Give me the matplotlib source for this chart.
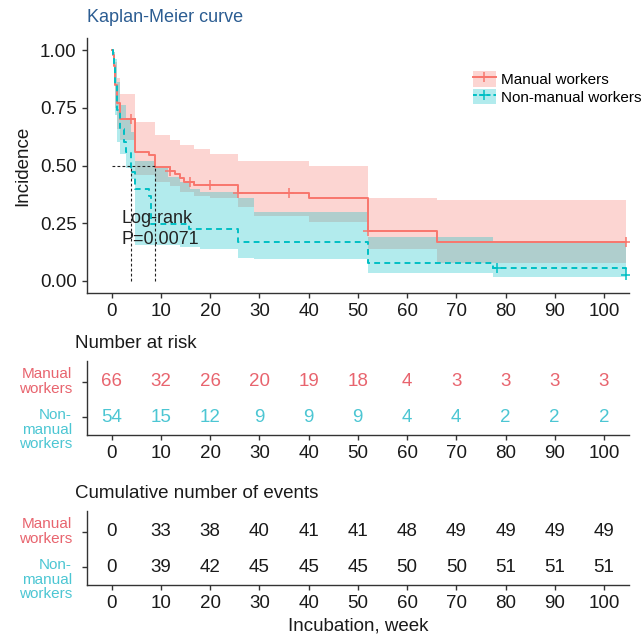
import numpy as np
import matplotlib
matplotlib.use('Agg')
import matplotlib.pyplot as plt
from matplotlib.patches import Patch
from matplotlib.lines import Line2D

plt.rcParams['font.family'] = ['Liberation Sans', 'DejaVu Sans']

# ---- data ----
groups = ['Manual workers', 'Non-manual workers']

# Kaplan-Meier curve, manual workers
man_t = [0, 0.3, 0.5, 0.7, 1.0, 1.8, 4.7, 7.6, 8.8, 11.8, 12.8, 13.8, 14.8, 16.8, 25.6, 40.0, 52.0, 66.0, 104.5]
man_s = [1.0, 0.98, 0.93, 0.85, 0.77, 0.70, 0.56, 0.545, 0.494, 0.476, 0.463, 0.446, 0.429, 0.416, 0.381, 0.36, 0.216, 0.169, 0.169]
man_cens = [4.0, 11.8, 15.9, 20.0, 25.6, 36.0, 52.0, 104.5]

# Kaplan-Meier curve, non-manual workers
non_t = [0, 0.3, 0.5, 0.7, 1.0, 1.8, 2.5, 3.0, 3.9, 4.7, 7.6, 8.0, 15.8, 25.6, 52.0, 77.5, 104.5]
non_s = [1.0, 0.98, 0.94, 0.85, 0.74, 0.66, 0.60, 0.56, 0.47, 0.40, 0.37, 0.247, 0.225, 0.169, 0.078, 0.056, 0.026]
non_cens = [78.2, 104.5]

# confidence bands
man_band_t = [0, 0.5, 0.7, 1.0, 1.8, 4.7, 8.8, 11.8, 13.8, 16.8, 20.0, 25.6, 29.0, 40.0, 52.0, 66.0, 104.5]
man_hi = [1.0, 0.99, 0.95, 0.88, 0.81, 0.69, 0.63, 0.61, 0.59, 0.57, 0.55, 0.52, 0.52, 0.50, 0.36, 0.35, 0.35]
man_lo = [1.0, 0.88, 0.75, 0.66, 0.61, 0.46, 0.43, 0.41, 0.385, 0.37, 0.36, 0.32, 0.28, 0.257, 0.138, 0.078, 0.078]

non_band_t = [0, 0.5, 0.7, 1.0, 1.8, 3.0, 3.9, 4.7, 8.8, 11.4, 13.8, 15.9, 17.9, 25.6, 29.0, 52.0, 77.5, 104.5]
non_hi = [1.0, 0.99, 0.96, 0.86, 0.76, 0.70, 0.645, 0.52, 0.49, 0.45, 0.43, 0.40, 0.385, 0.36, 0.30, 0.19, 0.169, 0.169]
non_lo = [1.0, 0.88, 0.72, 0.60, 0.55, 0.49, 0.44, 0.156, 0.156, 0.156, 0.147, 0.147, 0.138, 0.10, 0.095, 0.035, 0.017, 0.017]

pval_text = 'Log-rank\nP=0.0071'

# tables
table_x = [0, 10, 20, 30, 40, 50, 60, 70, 80, 90, 100]
risk_man = [66, 32, 26, 20, 19, 18, 4, 3, 3, 3, 3]
risk_non = [54, 15, 12, 9, 9, 9, 4, 4, 2, 2, 2]
events_man = [0, 33, 38, 40, 41, 41, 48, 49, 49, 49, 49]
events_non = [0, 39, 42, 45, 45, 45, 50, 50, 51, 51, 51]
row_labels = ['Manual\nworkers', 'Non-\nmanual\nworkers']

RED = '#F8766D'
CYAN = '#00BFC4'
RED_TXT = '#E8646E'
CYAN_TXT = '#4CC6D3'
AX_COL = '#333333'
FS = 13.5     # ticks, table numbers, axis titles
FS_SMALL = 11  # legend, row labels

fig = plt.figure(figsize=(6.41, 6.40), dpi=100)
W, H = 641, 640


def px_axes(x0, y0, x1, y1):
    return fig.add_axes([x0 / W, 1 - y1 / H, (x1 - x0) / W, (y1 - y0) / H])


def style(ax):
    for s in ['top', 'right']:
        ax.spines[s].set_visible(False)
    for s in ['left', 'bottom']:
        ax.spines[s].set_color(AX_COL)
        ax.spines[s].set_linewidth(1.0)
    ax.tick_params(colors=AX_COL, labelcolor='#1a1a1a', labelsize=FS, length=3.5, width=1.0, pad=4)
    ax.set_xlim(-5, 105)
    ax.set_xticks(table_x)


# ---- main KM plot ----
ax = px_axes(87, 38.5, 628.6, 292.5)
style(ax)
ax.set_ylim(-0.05, 1.05)
ax.set_yticks([0, 0.25, 0.5, 0.75, 1.0])
ax.set_yticklabels(['0.00', '0.25', '0.50', '0.75', '1.00'])

ax.fill_between(man_band_t, man_lo, man_hi, step='post', color=RED, alpha=0.3, lw=0)
ax.fill_between(non_band_t, non_lo, non_hi, step='post', color=CYAN, alpha=0.3, lw=0)

ax.step(man_t, man_s, where='post', color=RED, lw=1.4)
ax.step(non_t, non_s, where='post', color=CYAN, lw=1.4, ls=(0, (3, 2.2)))

for t, s, cens, c in [(man_t, man_s, man_cens, RED), (non_t, non_s, non_cens, CYAN)]:
    idx = np.searchsorted(t, cens, side='right') - 1
    ax.plot(cens, np.array(s)[idx], ls='none', marker='+', ms=7, mew=1.1, color=c)

# median lines
meds = []
for t, s in [(man_t, man_s), (non_t, non_s)]:
    i = np.argmax(np.array(s) <= 0.5)
    meds.append(t[i])
ax.plot([0, max(meds)], [0.5, 0.5], color='#222222', lw=0.8, ls=(0, (2.5, 2)))
for m in meds:
    ax.plot([m, m], [0, 0.5], color='#222222', lw=0.8, ls=(0, (2.5, 2)))

ax.text(2, 0.225, pval_text, fontsize=13, color='#222222', va='center', ha='left', linespacing=1.3)

ax.set_ylabel('Incidence', fontsize=FS, color='#1a1a1a', labelpad=6)
fig.text(87 / W, 1 - 18 / H, 'Kaplan-Meier curve', fontsize=13, color='#2C5D92', va='center', ha='left')

handles = [(Patch(facecolor=RED, alpha=0.3, lw=0), Line2D([], [], color=RED, lw=1.4, marker='+', ms=7, mew=1.1)),
           (Patch(facecolor=CYAN, alpha=0.3, lw=0), Line2D([], [], color=CYAN, lw=1.4, ls=(0, (2, 1.5)), marker='+', ms=7, mew=1.1))]
fig.legend(handles, groups, loc='upper left', bbox_to_anchor=(473 / W, 1 - 71 / H), frameon=False,
           fontsize=FS_SMALL, handlelength=1.5, handleheight=1.2, handletextpad=0.35, labelspacing=0.1,
           borderpad=0, borderaxespad=0)


# ---- tables ----
def table(y0, y1, title, vals_man, vals_non, colored):
    tx = px_axes(87, y0, 628.6, y1)
    style(tx)
    tx.set_ylim(0.5, 2.6)
    tx.set_yticks([1, 2])
    tx.set_yticklabels(['', ''])
    cols = [RED_TXT, CYAN_TXT] if colored else ['#1a1a1a', '#1a1a1a']
    for yv, vals, c in [(2, vals_man, cols[0]), (1, vals_non, cols[1])]:
        for x, v in zip(table_x, vals):
            tx.text(x, yv, str(v), ha='center', va='center', fontsize=FS, color=c)
    tr = tx.get_yaxis_transform()
    xl = (72 - 87) / (628.6 - 87)
    tx.text(xl, 2, row_labels[0], transform=tr, ha='right', va='center', fontsize=FS_SMALL,
            color=RED_TXT, linespacing=1.05)
    tx.text(xl, 1.25, row_labels[1], transform=tr, ha='right', va='top', fontsize=FS_SMALL,
            color=CYAN_TXT, linespacing=1.05)
    fig.text(75 / W, 1 - (y0 - 17) / H, title, fontsize=FS, color='#1a1a1a', va='center', ha='left')
    return tx


table(360.5, 434.7, 'Number at risk', risk_man, risk_non, True)
cum = table(510.5, 584.7, 'Cumulative number of events', events_man, events_non, False)
cum.set_xlabel('Incubation, week', fontsize=FS, color='#1a1a1a', labelpad=4)

fig.savefig('out.png', dpi=100)
